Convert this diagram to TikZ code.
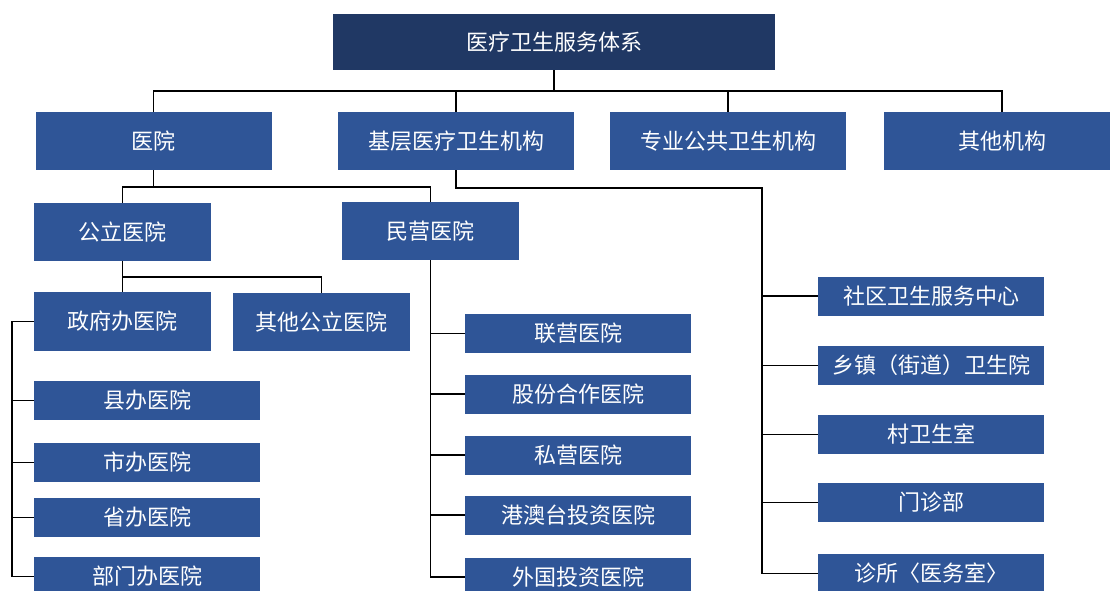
\documentclass[tikz,border=0pt]{standalone}
\usepackage{fontspec}
\setmainfont{Noto Sans CJK SC}
\definecolor{boxblue}{HTML}{2F5597}
\definecolor{titleblue}{HTML}{203864}
\begin{document}
\begin{tikzpicture}[x=1pt,y=-1pt,
  box/.style={fill=boxblue,text=white,inner sep=0pt,font=\fontsize{22}{24}\selectfont},
  conn/.style={draw=black,line width=1.8pt}]
\useasboundingbox (0,0) rectangle (1110,591);
% title
\node[box,fill=titleblue,minimum width=442pt,minimum height=56pt] (title) at (554,42) {医疗卫生服务体系};
% level 1
\node[box,minimum width=236pt,minimum height=58pt] (yiyuan) at (153.5,141) {医院};
\node[box,minimum width=236pt,minimum height=58pt] (jiceng) at (456,141) {基层医疗卫生机构};
\node[box,minimum width=236pt,minimum height=58pt] (zhuanye) at (728,141) {专业公共卫生机构};
\node[box,minimum width=236pt,minimum height=58pt] (qita) at (1002,141) {其他机构};
% level 2
\node[box,minimum width=177pt,minimum height=58pt] (gongli) at (122.5,232) {公立医院};
\node[box,minimum width=177pt,minimum height=58pt] (minying) at (430.5,231) {民营医院};
% level 3
\node[box,minimum width=177pt,minimum height=59pt] (zhengfu) at (122.5,321.5) {政府办医院};
\node[box,minimum width=177pt,minimum height=58pt] (qitagongli) at (321.5,322) {其他公立医院};
% government children
\node[box,minimum width=226pt,minimum height=39pt] (xian) at (147,400.5) {县办医院};
\node[box,minimum width=226pt,minimum height=39pt] (shi) at (147,462.5) {市办医院};
\node[box,minimum width=226pt,minimum height=39pt] (sheng) at (147,517.5) {省办医院};
\node[box,minimum width=226pt,minimum height=39pt] (bumen) at (147,576.5) {部门办医院};
% private children
\node[box,minimum width=226pt,minimum height=39pt] (lianying) at (578,333.5) {联营医院};
\node[box,minimum width=226pt,minimum height=39pt] (gufen) at (578,394) {股份合作医院};
\node[box,minimum width=226pt,minimum height=39pt] (siying) at (578,455) {私营医院};
\node[box,minimum width=226pt,minimum height=39pt] (gangao) at (578,515) {港澳台投资医院};
\node[box,minimum width=226pt,minimum height=39pt] (waiguo) at (578,577) {外国投资医院};
% primary care children
\node[box,minimum width=226pt,minimum height=39pt] (shequ) at (931,296) {社区卫生服务中心};
\node[box,minimum width=226pt,minimum height=39pt] (xiangzhen) at (931,365.5) {乡镇（街道）卫生院};
\node[box,minimum width=226pt,minimum height=39pt] (cun) at (931,434.5) {村卫生室};
\node[box,minimum width=226pt,minimum height=39pt] (menzhen) at (931,502.5) {门诊部};
\node[box,minimum width=226pt,minimum height=39pt] (zhensuo) at (931,573.5) {诊所〈医务室〉};
% connectors level 0-1
\coordinate (busA) at (554,91);
\draw[conn] (title.south) -- (busA);
\draw[conn] (yiyuan.north) |- (busA) -| (qita.north);
\draw[conn] (jiceng.north) -- (jiceng.north |- busA);
\draw[conn] (zhuanye.north) -- (zhuanye.north |- busA);
% hospital
\coordinate (busB) at (153.5,187);
\draw[conn] (yiyuan.south) -- (busB);
\draw[conn] (gongli.north) |- (busB) -| (minying.north);
% public
\coordinate (busC) at (122.5,277);
\draw[conn] (gongli.south) -- (zhengfu.north);
\draw[conn] (busC) -| (qitagongli.north);
% government
\coordinate (busD) at (12,321.5);
\draw[conn] (zhengfu.west) -- (busD) |- (bumen.west);
\draw[conn] (busD) |- (xian.west);
\draw[conn] (busD) |- (shi.west);
\draw[conn] (busD) |- (sheng.west);
% private
\draw[conn] (minying.south) |- (waiguo.west);
\draw[conn] (minying.south) |- (lianying.west);
\draw[conn] (minying.south) |- (gufen.west);
\draw[conn] (minying.south) |- (siying.west);
\draw[conn] (minying.south) |- (gangao.west);
% primary
\coordinate (busE) at (762,188);
\draw[conn] (jiceng.south) |- (busE) |- (zhensuo.west);
\draw[conn] (busE) |- (shequ.west);
\draw[conn] (busE) |- (xiangzhen.west);
\draw[conn] (busE) |- (cun.west);
\draw[conn] (busE) |- (menzhen.west);
\end{tikzpicture}
\end{document}
